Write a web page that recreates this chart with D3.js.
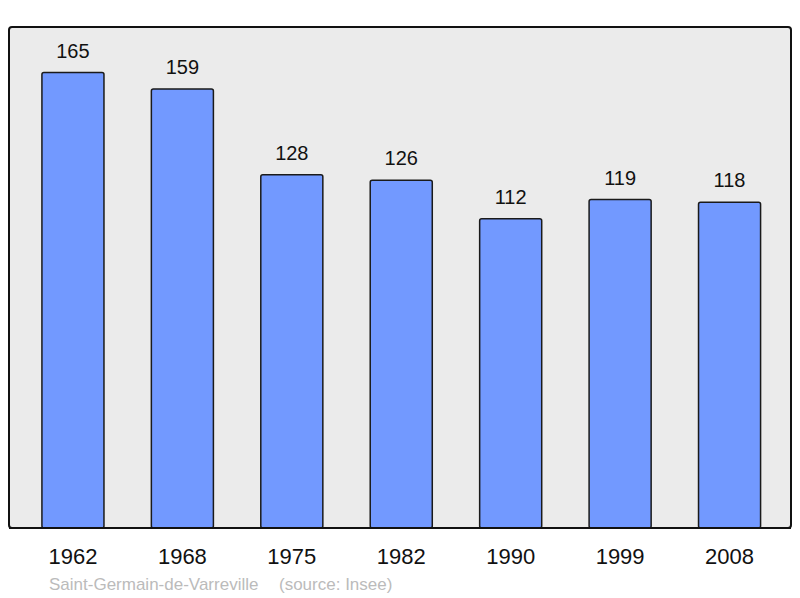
<!DOCTYPE html>
<html>
<head>
<meta charset="utf-8">
<script src="https://cdn.jsdelivr.net/npm/d3@7"></script>
<style>
  body { margin: 0; background: #fff; }
  svg { display: block; font-family: "Liberation Sans", Arial, sans-serif; }
</style>
</head>
<body>
<svg id="chart" width="800" height="598"></svg>
<script>
// population by census year
const years = ["1962", "1968", "1975", "1982", "1990", "1999", "2008"];
const population = [165, 159, 128, 126, 112, 119, 118];
const townName = "Saint-Germain-de-Varreville";
const sourceText = "(source: Insee)";

const svg = d3.select("#chart");

// plot frame
const frame = { left: 9, top: 27, right: 791, bottom: 528 };

svg.append("rect")
  .attr("x", frame.left)
  .attr("y", frame.top)
  .attr("width", frame.right - frame.left)
  .attr("height", frame.bottom - frame.top)
  .attr("rx", 3)
  .style("fill", "#ebebeb")
  .style("stroke", "#111")
  .style("stroke-width", 2);

const xScale = d3.scaleBand()
  .domain(years)
  .range([frame.left + 2.5, frame.right])
  .paddingInner(0.433)
  .paddingOuter(0.278);

const yScale = d3.scaleLinear()
  .domain([0, d3.max(population) * 1.1])
  .range([frame.bottom, frame.top]);

const bars = svg.append("g");

bars.selectAll("rect")
  .data(population)
  .enter()
  .append("rect")
  .attr("x", (d, i) => xScale(years[i]))
  .attr("y", d => yScale(d))
  .attr("width", xScale.bandwidth())
  .attr("height", d => frame.bottom - yScale(d))
  .attr("rx", 2)
  .style("fill", "#7299ff")
  .style("stroke", "#1a1a1a")
  .style("stroke-width", 1.5);

// value labels above bars
bars.selectAll("text")
  .data(population)
  .enter()
  .append("text")
  .attr("x", (d, i) => xScale(years[i]) + xScale.bandwidth() / 2)
  .attr("y", d => yScale(d) - 15)
  .style("text-anchor", "middle")
  .style("font-size", "20px")
  .style("fill", "#111")
  .text(d => d);

// redraw the frame bottom line over the bars
svg.append("line")
  .attr("x1", frame.left)
  .attr("x2", frame.right)
  .attr("y1", frame.bottom)
  .attr("y2", frame.bottom)
  .style("stroke", "#111")
  .style("stroke-width", 2);

// year axis
const xAxis = svg.append("g")
  .attr("transform", "translate(0," + frame.bottom + ")")
  .call(d3.axisBottom(xScale).tickSize(0).tickPadding(20));

xAxis.select(".domain").remove();
xAxis.selectAll("text")
  .style("font-family", "Liberation Sans, Arial, sans-serif")
  .style("font-size", "22px")
  .style("fill", "#111");

// footer
svg.append("text")
  .attr("x", 49)
  .attr("y", 590)
  .style("font-size", "17px")
  .style("fill", "#bbbbbb")
  .text(townName);

svg.append("text")
  .attr("x", 279)
  .attr("y", 590)
  .style("font-size", "17px")
  .style("fill", "#bbbbbb")
  .text(sourceText);
</script>
</body>
</html>
